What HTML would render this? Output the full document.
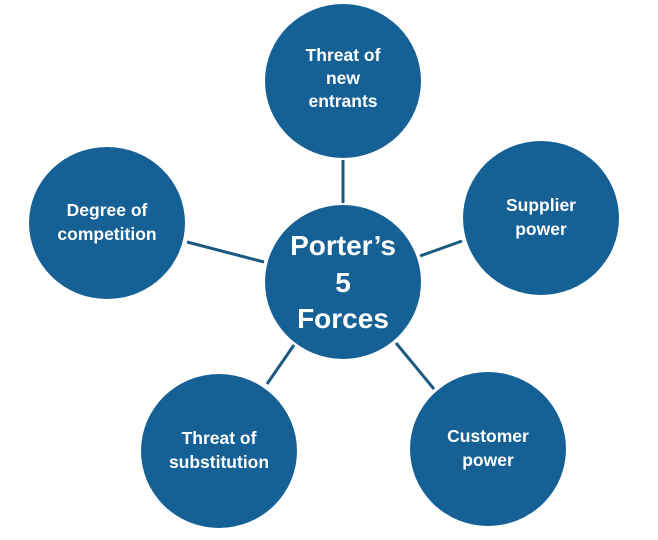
<!DOCTYPE html>
<html><head><meta charset="utf-8"><style>
html,body{margin:0;padding:0;background:#fff;width:658px;height:540px;overflow:hidden}
</style></head><body>
<svg width="658" height="540" viewBox="0 0 658 540" xmlns="http://www.w3.org/2000/svg">
<g stroke="#1a5a80" stroke-width="3">
<line x1="343" y1="160" x2="343" y2="203"/>
<line x1="187" y1="242" x2="264" y2="262"/>
<line x1="420" y1="256" x2="462" y2="241"/>
<line x1="267" y1="384" x2="294" y2="345"/>
<line x1="396" y1="343" x2="434" y2="389"/>
</g>
<g fill="#156196">
<ellipse cx="343" cy="81" rx="78" ry="77"/>
<ellipse cx="343" cy="282" rx="78" ry="77"/>
<ellipse cx="107" cy="223" rx="78" ry="76"/>
<ellipse cx="541" cy="218" rx="78" ry="77"/>
<ellipse cx="219" cy="451" rx="78" ry="77"/>
<ellipse cx="488" cy="449" rx="78" ry="77"/>
</g>
<g fill="#fff" font-family="Liberation Sans, sans-serif" font-weight="bold" font-size="17.5" text-anchor="middle">
<text x="343" y="61">Threat of</text>
<text x="343" y="84">new</text>
<text x="343" y="107">entrants</text>
<text x="107" y="216">Degree of</text>
<text x="107" y="240">competition</text>
<text x="541" y="211">Supplier</text>
<text x="541" y="235">power</text>
<text x="219" y="444">Threat of</text>
<text x="219" y="468">substitution</text>
<text x="488" y="442">Customer</text>
<text x="488" y="466">power</text>
<g font-size="28">
<text x="343" y="255">Porter’s</text>
<text x="343" y="292">5</text>
<text x="343" y="328">Forces</text>
</g>
</g>
</svg>
</body></html>
